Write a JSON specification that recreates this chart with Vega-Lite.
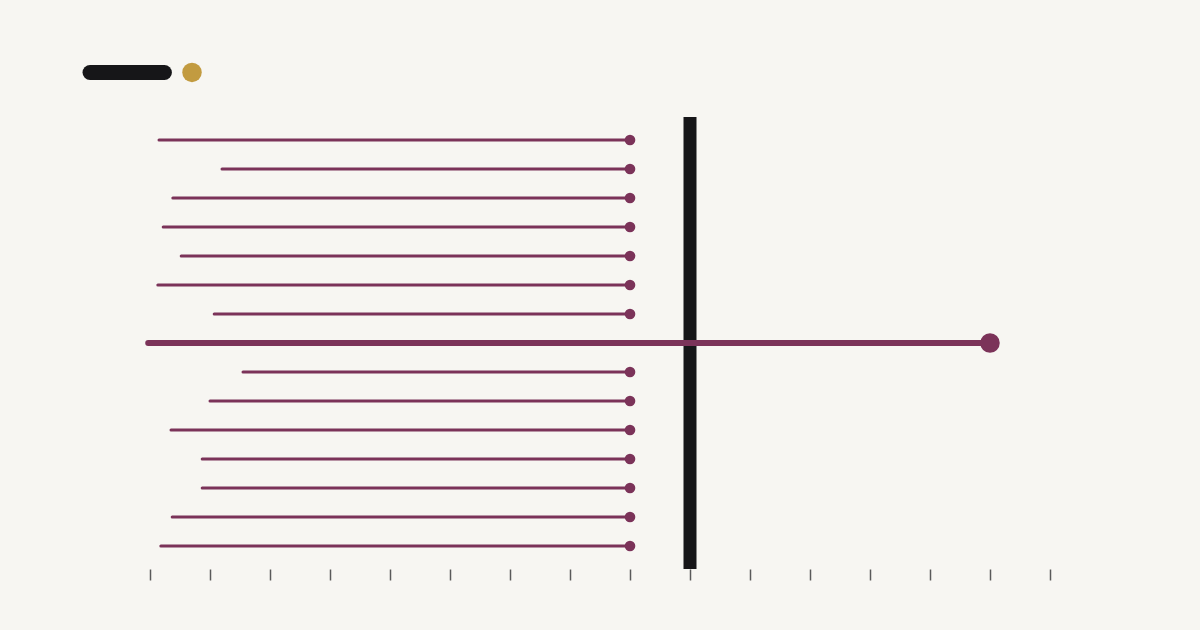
{
  "$schema": "https://vega.github.io/schema/vega-lite/v6.json",
  "width": 900,
  "height": 452,
  "autosize": "none",
  "padding": {"left": 150, "top": 117, "right": 150, "bottom": 61},
  "background": "#f7f6f2",
  "config": {"view": {"stroke": null}},
  "datasets": {
    "rows": [
      {"row": 0, "start": 0.15, "end": 8, "highlight": false},
      {"row": 1, "start": 1.2, "end": 8, "highlight": false},
      {"row": 2, "start": 0.38, "end": 8, "highlight": false},
      {"row": 3, "start": 0.22, "end": 8, "highlight": false},
      {"row": 4, "start": 0.52, "end": 8, "highlight": false},
      {"row": 5, "start": 0.13, "end": 8, "highlight": false},
      {"row": 6, "start": 1.07, "end": 8, "highlight": false},
      {"row": 7, "start": -0.03, "end": 14, "highlight": true},
      {"row": 8, "start": 1.55, "end": 8, "highlight": false},
      {"row": 9, "start": 1.0, "end": 8, "highlight": false},
      {"row": 10, "start": 0.35, "end": 8, "highlight": false},
      {"row": 11, "start": 0.87, "end": 8, "highlight": false},
      {"row": 12, "start": 0.87, "end": 8, "highlight": false},
      {"row": 13, "start": 0.37, "end": 8, "highlight": false},
      {"row": 14, "start": 0.18, "end": 8, "highlight": false}
    ],
    "key": [
      {"item": "bar", "from": -1.0, "to": 0.24, "y": -2.33},
      {"item": "dot", "from": 0.7, "to": 0.7, "y": -2.33}
    ]
  },
  "layer": [
    {
      "data": {"name": "rows"},
      "transform": [{"filter": "!datum.highlight"}],
      "mark": {"type": "rule", "color": "#7b3359", "strokeWidth": 3, "strokeCap": "round"},
      "encoding": {
        "x": {
          "field": "start",
          "type": "quantitative",
          "scale": {"domain": [0, 15], "nice": false, "zero": false},
          "axis": {
            "values": [0, 1, 2, 3, 4, 5, 6, 7, 8, 9, 10, 11, 12, 13, 14, 15],
            "labels": false,
            "domain": false,
            "grid": false,
            "title": null,
            "tickSize": 11,
            "tickColor": "#5a5a5a",
            "tickWidth": 1.5
          }
        },
        "x2": {"field": "end"},
        "y": {"field": "row", "type": "quantitative", "scale": {"domain": [-0.7931, 14.7931], "reverse": true, "zero": false, "nice": false}, "axis": null}
      }
    },
    {
      "data": {"name": "rows"},
      "transform": [{"filter": "!datum.highlight"}],
      "mark": {"type": "circle", "color": "#7b3359", "opacity": 1, "size": 113},
      "encoding": {
        "x": {"field": "end", "type": "quantitative"},
        "y": {"field": "row", "type": "quantitative"}
      }
    },
    {
      "data": {"values": [{"ref": 9}]},
      "mark": {"type": "rule", "color": "#161618", "strokeWidth": 13},
      "encoding": {"x": {"field": "ref", "type": "quantitative"}}
    },
    {
      "data": {"name": "rows"},
      "transform": [{"filter": "datum.highlight"}],
      "mark": {"type": "rule", "color": "#7b3359", "strokeWidth": 6, "strokeCap": "round"},
      "encoding": {
        "x": {"field": "start", "type": "quantitative"},
        "x2": {"field": "end"},
        "y": {"field": "row", "type": "quantitative"}
      }
    },
    {
      "data": {"name": "rows"},
      "transform": [{"filter": "datum.highlight"}],
      "mark": {"type": "circle", "color": "#7b3359", "opacity": 1, "size": 380},
      "encoding": {
        "x": {"field": "end", "type": "quantitative"},
        "y": {"field": "row", "type": "quantitative"}
      }
    },
    {
      "data": {"name": "key"},
      "transform": [{"filter": "datum.item == 'bar'"}],
      "mark": {"type": "rule", "color": "#161618", "strokeWidth": 15, "strokeCap": "round", "clip": false},
      "encoding": {
        "x": {"field": "from", "type": "quantitative"},
        "x2": {"field": "to"},
        "y": {"field": "y", "type": "quantitative"}
      }
    },
    {
      "data": {"name": "key"},
      "transform": [{"filter": "datum.item == 'dot'"}],
      "mark": {"type": "circle", "color": "#c29b40", "opacity": 1, "size": 380, "clip": false},
      "encoding": {
        "x": {"field": "from", "type": "quantitative"},
        "y": {"field": "y", "type": "quantitative"}
      }
    }
  ]
}
